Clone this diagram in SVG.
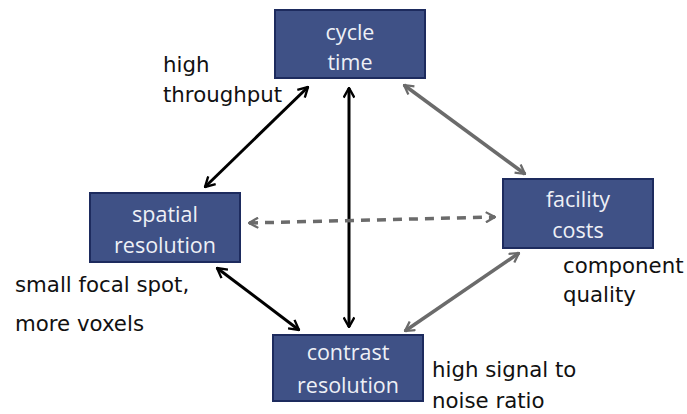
<svg xmlns="http://www.w3.org/2000/svg" width="687" height="414" viewBox="0 0 687 414">
<defs>
<style>
.box{fill:#3f5186;stroke:#1d2b5e;stroke-width:2}
.bt{font-family:"Open Sans","Liberation Sans",sans-serif;font-size:21.5px;fill:#eef0f6;text-anchor:middle}
.lt{font-family:"DejaVu Sans","Liberation Sans",sans-serif;font-size:21.3px;fill:#111}
.blk{stroke:#000;stroke-width:3;fill:none}
.gry{stroke:#6b6b6b;stroke-width:3.5;fill:none}
.dash{stroke-dasharray:9 7}
</style>
<marker id="ab" viewBox="0 0 12 12" refX="11" refY="6" markerWidth="4.3" markerHeight="4.3" orient="auto-start-reverse" markerUnits="strokeWidth">
<path d="M2,1 L11,6 L2,11" fill="none" stroke="#000" stroke-width="2.2"/>
</marker>
<marker id="ag" viewBox="0 0 12 12" refX="11" refY="6" markerWidth="3.5" markerHeight="3.5" orient="auto-start-reverse" markerUnits="strokeWidth">
<path d="M2,1 L11,6 L2,11" fill="none" stroke="#6b6b6b" stroke-width="2.2"/>
</marker>
</defs>
<rect width="687" height="414" fill="#fff"/>
<g id="connectors">
<line class="blk" x1="308" y1="87" x2="205" y2="187" marker-start="url(#ab)" marker-end="url(#ab)"/>
<line class="blk" x1="349" y1="88" x2="349" y2="327" marker-start="url(#ab)" marker-end="url(#ab)"/>
<line class="blk" x1="217" y1="268" x2="299" y2="330" marker-start="url(#ab)" marker-end="url(#ab)"/>
<line class="gry" x1="404" y1="85" x2="525" y2="174" marker-start="url(#ag)" marker-end="url(#ag)"/>
<line class="gry" x1="519" y1="253" x2="405" y2="331" marker-start="url(#ag)" marker-end="url(#ag)"/>
<line class="gry dash" x1="249" y1="223" x2="495" y2="217" marker-start="url(#ag)" marker-end="url(#ag)"/>
</g>
<g id="cycle-time">
<rect class="box" x="275" y="10" width="150" height="68"/>
<text class="bt" x="350" y="40">cycle</text>
<text class="bt" x="350" y="70">time</text>
</g>
<g id="spatial-resolution">
<rect class="box" x="90" y="193" width="150" height="69"/>
<text class="bt" x="165" y="222">spatial</text>
<text class="bt" x="165" y="253">resolution</text>
</g>
<g id="facility-costs">
<rect class="box" x="503" y="179" width="150" height="69"/>
<text class="bt" x="578" y="207">facility</text>
<text class="bt" x="578" y="238">costs</text>
</g>
<g id="contrast-resolution">
<rect class="box" x="273" y="335" width="150" height="66"/>
<text class="bt" x="348" y="360">contrast</text>
<text class="bt" x="348" y="393">resolution</text>
</g>
<g id="labels">
<text class="lt" x="163" y="72">high</text>
<text class="lt" x="163" y="102">throughput</text>
<text class="lt" x="15" y="292">small focal spot,</text>
<text class="lt" x="15" y="331">more voxels</text>
<text class="lt" x="563" y="273">component</text>
<text class="lt" x="563" y="302">quality</text>
<text class="lt" x="432" y="377">high signal to</text>
<text class="lt" x="432" y="408">noise ratio</text>
</g>
</svg>
